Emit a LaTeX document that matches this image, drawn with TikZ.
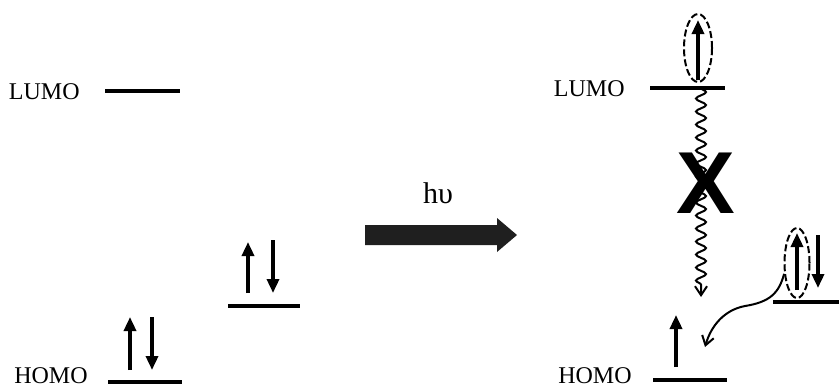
\documentclass[tikz,border=0pt]{standalone}
\usepackage{fontspec}
\setmainfont{Liberation Serif}
\setsansfont{Liberation Sans}
\usetikzlibrary{arrows.meta,shapes.geometric,decorations.pathmorphing}

\begin{document}
\begin{tikzpicture}[
  x=0.5pt,y=0.5pt,
  font=\fontsize{12}{14}\selectfont,
  level/.style={line width=2pt},
  spin/.style={line width=1.7pt,-{Triangle[length=7pt,width=6pt]}},
  pair/.style={draw,ellipse,line width=1pt,dash pattern=on 3.5pt off 1.5pt,inner sep=0pt},
  lbl/.style={inner sep=0pt,anchor=base east},
  relax/.style={line width=1pt,-{Straight Barb[length=4.5pt,width=6pt]}},
  wave/.style={relax,decorate,decoration={snake,amplitude=2.5pt,segment length=6.5pt,post length=6pt}}
]
\useasboundingbox (0,0) rectangle (839,388);

% ground state
\node[lbl] (lumoA) at (80,289) {LUMO};
\node[lbl] (homoA) at (88,5) {HOMO};
\draw[level] (105,297) -- (180,297);
\draw[level] (108,6) -- (182,6);
\draw[level] (228,82) -- (300,82);
\draw[spin] (130,18) -- (130,71);
\draw[spin] (152,71) -- (152,18);
\draw[spin] (248,95) -- (248,146);
\draw[spin] (273,148) -- (273,95);

% excitation
\fill[black!88] (365,143) -- (497,143) -- (497,136) -- (517,153)
  -- (497,170) -- (497,163) -- (365,163) -- cycle;
\node[font=\fontsize{15}{18}\selectfont,inner sep=0pt,anchor=base] (hv) at (438,185) {hυ};

% excited state
\node[lbl] (lumoB) at (625,292) {LUMO};
\node[lbl] (homoB) at (632,5) {HOMO};
\draw[level] (650,300) -- (725,300);
\draw[level] (653,8) -- (727,8);
\draw[level] (773,86) -- (839,86);
\draw[spin] (698,308) -- (698,368);
\draw[spin] (676,21) -- (676,73);
\draw[spin] (797,98) -- (797,155);
\draw[spin] (818,153) -- (818,100);
\node[pair,minimum width=14pt,minimum height=34pt] (exc) at (698,340) {};
\node[pair,minimum width=12.5pt,minimum height=35pt] (don) at (797,125) {};

\coordinate (top) at (701,300);
\coordinate (drop) at (701,91);
\coordinate (hole) at (705,41);
\draw[wave] (top) -- (drop);
\node[font=\sffamily\bfseries\fontsize{44}{44}\selectfont,inner sep=0pt] (block) at (706,205) {X};
\draw[relax] (don.220) .. controls (779,95) and (770,86) .. (745,82)
  .. controls (724,78) and (711,62) .. (hole);
\end{tikzpicture}
\end{document}
